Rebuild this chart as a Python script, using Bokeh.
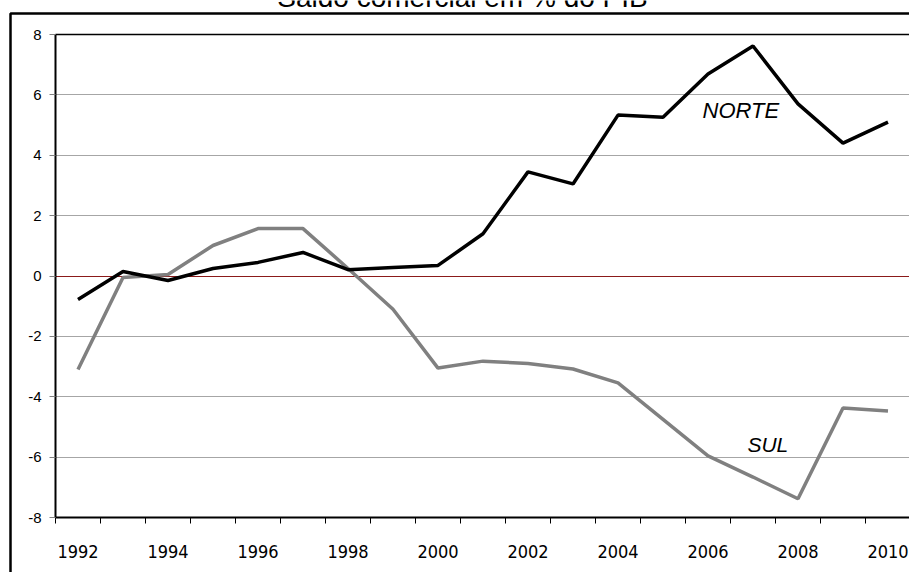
from bokeh.plotting import figure
from bokeh.models import (Range1d, FixedTicker, LinearAxis, Grid, BoxAnnotation,
                          Label, ColumnDataSource)
from bokeh.embed import file_html
from bokeh.resources import INLINE

# Trade balance as % of GDP, 1992-2010
years = list(range(1992, 2011))
norte = [-0.78, 0.15, -0.15, 0.25, 0.45, 0.78, 0.21, 0.28, 0.35, 1.40, 3.45, 3.05,
         5.33, 5.26, 6.69, 7.62, 5.70, 4.40, 5.10]
sul = [-3.10, -0.05, 0.05, 1.01, 1.57, 1.57, 0.25, -1.10, -3.05, -2.82, -2.90, -3.08,
       -3.54, -4.75, -5.96, -6.66, -7.38, -4.37, -4.47]
y_ticks = [-8, -6, -4, -2, 0, 2, 4, 6, 8]
x_label_years = [1992, 1994, 1996, 1998, 2000, 2002, 2004, 2006, 2008, 2010]
title_text = "Saldo comercial em % do PIB"

src = ColumnDataSource(dict(year=years, norte=norte, sul=sul))

# canvas geometry: the plotting area starts 55px from the left and runs
# from 34px to 517px down the canvas
W, H = 909, 572
LEFT, TOP, BOTTOM = 55, 34, 517
px_per_year = 45.0
y_lo, y_hi = -8.0, 8.0
px_per_unit = (BOTTOM - TOP) / (y_hi - y_lo)
x_first = years[0] - 0.5
x_last = years[-1] + 0.5
x_start = x_first - LEFT / px_per_year
x_end = x_start + W / px_per_year
y_end = y_hi + TOP / px_per_unit
y_start = y_lo - (H - BOTTOM) / px_per_unit

p = figure(width=W, height=H, output_backend="svg", toolbar_location=None,
           x_range=Range1d(x_start, x_end), y_range=Range1d(y_start, y_end),
           min_border=0, x_axis_location=None, y_axis_location=None)
p.outline_line_color = None
p.background_fill_color = "white"
p.border_fill_color = "white"
p.xgrid.visible = False
p.ygrid.visible = False

# horizontal gridlines, zero line and top border of the plotting area
grid = Grid(dimension=1, ticker=FixedTicker(ticks=[-6, -4, -2, 2, 4, 6]),
            cross_bounds=(x_first, x_last), grid_line_color="#a6a6a6", grid_line_width=1)
zero = Grid(dimension=1, ticker=FixedTicker(ticks=[0]), cross_bounds=(x_first, x_last),
            grid_line_color="#8b1a1a", grid_line_width=1.2)
top = Grid(dimension=1, ticker=FixedTicker(ticks=[y_hi]), cross_bounds=(x_first, x_last),
           grid_line_color="black", grid_line_width=1.5)
for g in (grid, zero, top):
    p.add_layout(g)

# y axis
yax = LinearAxis(ticker=FixedTicker(ticks=y_ticks), fixed_location=x_first,
                 bounds=(y_lo, y_hi),
                 major_label_overrides={float(t): str(t) for t in y_ticks})
yax.axis_line_color = "black"
yax.axis_line_width = 2
yax.major_tick_line_color = "#808080"
yax.major_tick_out = 6
yax.major_tick_in = 0
yax.minor_tick_line_color = None
yax.major_label_standoff = 8
yax.major_label_text_font = "Liberation Sans"
yax.major_label_text_font_size = "15px"
yax.major_label_text_color = "black"
p.add_layout(yax, "left")

# x axis: year labels centred on the categories, tick marks between them
xax = LinearAxis(ticker=FixedTicker(ticks=x_label_years,
                                    minor_ticks=[y - 0.5 for y in years] + [x_last]),
                 fixed_location=y_lo, bounds=(x_first, x_last))
xax.axis_line_color = "black"
xax.axis_line_width = 2
xax.major_tick_line_color = None
xax.major_tick_out = 0
xax.major_tick_in = 0
xax.minor_tick_line_color = "black"
xax.minor_tick_out = 6
xax.minor_tick_in = 0
xax.major_label_standoff = 21
xax.major_label_text_font = "DejaVu Sans Condensed, Liberation Sans"
xax.major_label_text_font_size = "18px"
xax.major_label_text_color = "black"
p.add_layout(xax, "below")

p.line("year", "sul", source=src, line_color="#808080", line_width=3.5)
p.line("year", "norte", source=src, line_color="black", line_width=3.5)

p.add_layout(Label(x=2006.73, y=5.47, text="NORTE", text_font="Liberation Sans",
                   text_font_style="italic", text_font_size="22px",
                   text_align="center", text_baseline="middle", text_color="black"))
p.add_layout(Label(x=2007.33, y=-5.58, text="SUL", text_font="Liberation Sans",
                   text_font_style="italic", text_font_size="21px",
                   text_align="center", text_baseline="middle", text_color="black"))

# chart title and outer frame
p.add_layout(Label(x=462, y=-3, x_units="canvas", y_units="canvas", text=title_text,
                   text_font="Liberation Sans", text_font_size="28px",
                   text_align="center", text_baseline="alphabetic", text_color="black"))
p.add_layout(BoxAnnotation(left=10, top=13, right=2000, bottom=2000,
                           left_units="canvas", top_units="canvas",
                           right_units="canvas", bottom_units="canvas",
                           fill_alpha=0, line_color="black", line_alpha=1.0,
                           line_width=2.5, editable=False))

open("out.html", "w").write(file_html(p, INLINE))
